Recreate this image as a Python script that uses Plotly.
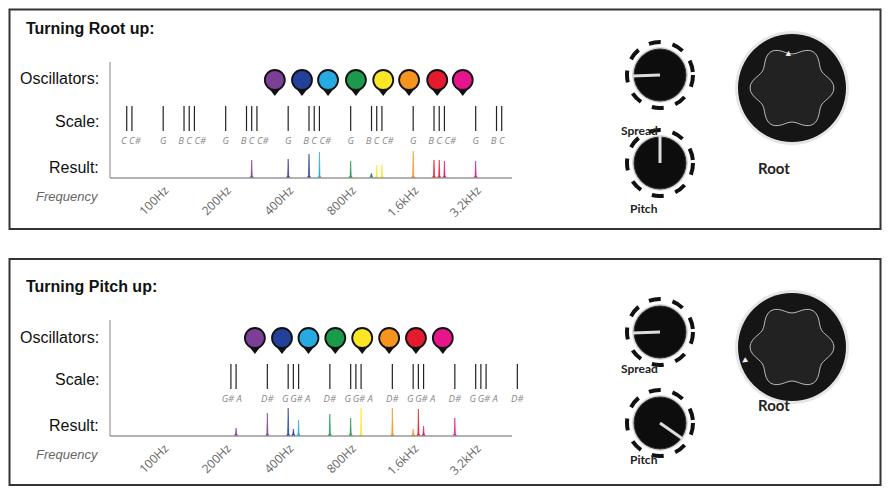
import math
import plotly.graph_objects as go

# page body has an 8px margin, so the figure is sized to fit the 890x494 window
OFF = 8
W, H = 890 - 2 * OFF, 494 - 2 * OFF

# ---------------- data ----------------
freq_ticks = [100, 200, 400, 800, 1600, 3200]
freq_tick_labels = ["100Hz", "200Hz", "400Hz", "800Hz", "1.6kHz", "3.2kHz"]

osc_colors = ["#7b3f98", "#23409a", "#27aae1", "#1b9a4b", "#fbe625", "#f7941e", "#e41b2c", "#e6158c"]

# Top panel: Turning Root up
root_osc_freq = [338, 457, 610, 831, 1125, 1498, 2047, 2717]
root_scale_notes = ["C", "C#", "G", "B", "C", "C#", "G", "B", "C", "C#", "G", "B", "C", "C#",
                    "G", "B", "C", "C#", "G", "B", "C", "C#", "G", "B", "C"]
root_scale_freq = [65.4, 69.3, 98.0, 123.5, 130.8, 138.6, 196.0, 246.9, 261.6, 277.2, 392.0, 493.9,
                   523.3, 554.4, 784.0, 987.8, 1046.5, 1108.7, 1568.0, 1975.5, 2093.0, 2217.5,
                   3136.0, 3951.1, 4186.0]
root_peak_freq = [261.6, 392.0, 493.9, 554.4, 784.0, 987.8, 1046.5, 1108.7, 1568.0, 1975.5, 2093.0, 2217.5, 3136.0]
root_peak_height = [18, 19, 24, 26, 17, 5, 13, 14, 27, 18, 18, 17, 17]
root_peak_color = ["#7b3f98", "#4a3390", "#23409a", "#27aae1", "#1b9a4b", "#2a8a7a", "#fbe625",
                   "#fbe625", "#f7941e", "#e41b2c", "#e41b2c", "#e6156e", "#e6158c"]

# Bottom panel: Turning Pitch up
pitch_osc_freq = [271, 366, 491, 661, 891, 1201, 1617, 2178]
pitch_scale_notes = ["G#", "A", "D#", "G", "G#", "A", "D#", "G", "G#", "A", "D#", "G", "G#", "A",
                     "D#", "G", "G#", "A", "D#"]
pitch_scale_freq = [207.7, 220.0, 311.1, 392.0, 415.3, 440.0, 622.3, 784.0, 830.6, 880.0, 1244.5,
                    1568.0, 1661.2, 1760.0, 2489.0, 3136.0, 3322.4, 3520.0, 4978.0]
pitch_peak_freq = [220.0, 311.1, 392.0, 415.3, 440.0, 622.3, 784.0, 880.0, 1244.5, 1568.0, 1661.2, 1760.0, 2489.0]
pitch_peak_height = [8, 23, 28, 7, 16, 22, 18, 28, 28, 7, 27, 10, 18]
pitch_peak_color = ["#7b3f98", "#7b3f98", "#23409a", "#23409a", "#27aae1", "#1b9a4b", "#1b9a4b",
                    "#fbe625", "#f7941e", "#f7941e", "#e41b2c", "#e6156e", "#e6158c"]

# ---------------- helpers ----------------
def px(x):
    return (x - OFF) / W

def py(y):
    return 1 - (y - OFF) / H

def f_at(pxl):
    return 100 * 2 ** ((pxl - 165) / 62.5)

def pix_of(f):
    return 165 + 62.5 * math.log2(f / 100)

AX_L, AX_R = 110, 530
xrange_log = [math.log10(f_at(AX_L)), math.log10(f_at(AX_R))]

fig = go.Figure()
shapes = []
ann = []

panels = [
    dict(title="Turning Root up:", top=9.5, bot=229, base=178, xa="x", ya="y",
         osc=root_osc_freq, notes=root_scale_notes, sf=root_scale_freq,
         pf=root_peak_freq, ph=root_peak_height, pc=root_peak_color,
         spread=(660, 75), pitch=(660, 163), root=(792, 88),
         spread_ang=182, pitch_ang=90, root_ang=85),
    dict(title="Turning Pitch up:", top=259, bot=485, base=436, xa="x2", ya="y2",
         osc=pitch_osc_freq, notes=pitch_scale_notes, sf=pitch_scale_freq,
         pf=pitch_peak_freq, ph=pitch_peak_height, pc=pitch_peak_color,
         spread=(660, 332), pitch=(660, 423), root=(792, 347),
         spread_ang=182, pitch_ang=-35, root_ang=213),
]
title_y = [29, 286]

YTOP = 138
for i, p in enumerate(panels):
    xa, ya = p["xa"], p["ya"]
    base = p["base"]
    shapes.append(dict(type="rect", xref="paper", yref="paper", x0=px(9.5), x1=px(880.5),
                       y0=py(p["bot"]), y1=py(p["top"]), line=dict(color="#333", width=2)))
    shapes.append(dict(type="line", xref="paper", yref="paper", x0=px(110), x1=px(110),
                       y0=py(base), y1=py(base - 116), line=dict(color="#999", width=1.2)))
    shapes.append(dict(type="line", xref="paper", yref="paper", x0=px(110), x1=px(512),
                       y0=py(base), y1=py(base), line=dict(color="#999", width=1.5)))
    ann.append(dict(text="<b>" + p["title"] + "</b>", x=px(24), y=py(title_y[i]), xref="paper", yref="paper",
                    xanchor="left", yanchor="middle", showarrow=False,
                    font=dict(family="Liberation Sans, Arial", size=16, color="#111")))
    for lab, dy, sty in [("Oscillators:", 99, None), ("Scale:", 57, None), ("Result:", 11, None), ("Frequency", -18, "i")]:
        txt = "<i>" + lab + "</i>" if sty else lab
        ann.append(dict(text=txt, x=px(101), y=py(base - dy), xref="paper", yref="paper",
                        xanchor="right", yanchor="middle", showarrow=False,
                        font=dict(family="Liberation Sans, Arial", size=13 if sty else 16,
                                  color="#666" if sty else "#111")))
    sx, sy = [], []
    for f in p["sf"]:
        sx += [f, f, None]
        sy += [47, 72, None]
    fig.add_trace(go.Scatter(x=sx, y=sy, mode="lines", line=dict(color="#222", width=1.2),
                             xaxis=xa, yaxis=ya, hoverinfo="skip", cliponaxis=False))
    # greedy label layout: keep each note label under its line but never overlapping the previous one
    pxs = [pix_of(f) for f in p["sf"]]
    n = len(pxs)
    lab_x = []
    prev_end = -1e9
    for k in range(n):
        t = p["notes"][k]
        w = 6.5 * len(t)
        c = pxs[k]
        if k < n - 1 and pxs[k + 1] - pxs[k] < 11:
            c -= 3
        if c - w / 2 < prev_end + 1.5:
            c = prev_end + 1.5 + w / 2
        prev_end = c + w / 2
        lab_x.append(f_at(c))
    fig.add_trace(go.Scatter(x=lab_x, y=[36] * n, mode="text",
                             text=["<i>" + t + "</i>" for t in p["notes"]], textposition="middle center",
                             textfont=dict(family="Open Sans", size=9.5, color="#888"),
                             xaxis=xa, yaxis=ya, hoverinfo="skip", cliponaxis=False))
    for f, h, c in zip(p["pf"], p["ph"], p["pc"]):
        w = 2 ** 0.03
        fig.add_trace(go.Scatter(x=[f / w, f / 1.006, f, f * 1.006, f * w], y=[0, 2.5, h, 2.5, 0],
                                 mode="lines", fill="toself", fillcolor=c, line=dict(color=c, width=0.6),
                                 xaxis=xa, yaxis=ya, hoverinfo="skip"))
    fig.add_trace(go.Scatter(x=p["osc"], y=[87] * 8, mode="markers",
                             marker=dict(symbol="triangle-down", size=10, color="#111"),
                             xaxis=xa, yaxis=ya, hoverinfo="skip", cliponaxis=False))
    fig.add_trace(go.Scatter(x=p["osc"], y=[98] * 8, mode="markers",
                             marker=dict(symbol="circle", size=20, color=osc_colors,
                                         line=dict(color="#111", width=1.8)),
                             xaxis=xa, yaxis=ya, hoverinfo="skip", cliponaxis=False))
    for key, lab in [("spread", "Spread"), ("pitch", "Pitch")]:
        cx, cy = p[key]
        ang = math.radians(p[key + "_ang"])
        shapes.append(dict(type="circle", xref="paper", yref="paper", x0=px(cx - 33), x1=px(cx + 33),
                           y0=py(cy + 33), y1=py(cy - 33), line=dict(color="#111", width=4, dash="dash")))
        shapes.append(dict(type="circle", xref="paper", yref="paper", x0=px(cx - 28), x1=px(cx + 28),
                           y0=py(cy + 28), y1=py(cy - 28), fillcolor="#d9d9d9", line=dict(width=0)))
        shapes.append(dict(type="circle", xref="paper", yref="paper", x0=px(cx - 26), x1=px(cx + 26),
                           y0=py(cy + 26), y1=py(cy - 26), fillcolor="#0d0d0d", line=dict(color="#333", width=1)))
        shapes.append(dict(type="line", xref="paper", yref="paper", x0=px(cx), y0=py(cy),
                           x1=px(cx + 28 * math.cos(ang)), y1=py(cy - 28 * math.sin(ang)),
                           line=dict(color="#ddd", width=3)))
        ann.append(dict(text="<b>" + lab + "</b>", x=px(cx), y=py(cy + 46), xref="paper", yref="paper",
                        showarrow=False, font=dict(family="Lato", size=12, color="#222")))
    cx, cy = p["root"]
    shapes.append(dict(type="circle", xref="paper", yref="paper", x0=px(cx - 57), x1=px(cx + 57),
                       y0=py(cy + 57), y1=py(cy - 57), fillcolor="#e6e6e6", line=dict(width=0)))
    shapes.append(dict(type="circle", xref="paper", yref="paper", x0=px(cx - 54), x1=px(cx + 54),
                       y0=py(cy + 54), y1=py(cy - 54), fillcolor="#151515", line=dict(width=0)))
    pts = []
    for k in range(73):
        t = 2 * math.pi * k / 72
        r = 38 + 4 * math.cos(6 * t)
        pts.append((cx + r * math.cos(t), cy - r * math.sin(t)))
    path = "M " + " L ".join(f"{px(a):.5f},{py(b):.5f}" for a, b in pts) + " Z"
    shapes.append(dict(type="path", xref="paper", yref="paper", path=path,
                       fillcolor="#222", line=dict(color="#bbb", width=1)))
    ra = math.radians(p["root_ang"])
    tx, ty = cx + 45 * math.cos(ra), cy - 45 * math.sin(ra)
    ann.append(dict(text="▲", x=px(tx), y=py(ty), xref="paper", yref="paper", showarrow=False,
                    textangle=90 - p["root_ang"], font=dict(size=9, color="#eee")))
    ann.append(dict(text="<b>Root</b>", x=px(cx), y=py(cy + 69), xref="paper", yref="paper",
                    showarrow=False, font=dict(family="Lato", size=15, color="#222")))

    fig.layout[("xaxis" if i == 0 else "xaxis2")] = dict(
        type="log", range=xrange_log, domain=[px(AX_L), px(AX_R)], anchor=ya,
        showgrid=False, zeroline=False, showline=False, ticks="",
        tickvals=freq_ticks, ticktext=freq_tick_labels, tickangle=-45,
        tickfont=dict(family="Open Sans", size=12, color="#666"), ticklabelstandoff=2)
    fig.layout[("yaxis" if i == 0 else "yaxis2")] = dict(
        range=[0, YTOP], domain=[py(base), py(base - YTOP)], anchor=xa,
        visible=False, showgrid=False, zeroline=False)

fig.update_layout(width=W, height=H, margin=dict(l=0, r=0, t=0, b=0), showlegend=False,
                  plot_bgcolor="white", paper_bgcolor="white", shapes=shapes, annotations=ann)
fig.write_html("out.html")
